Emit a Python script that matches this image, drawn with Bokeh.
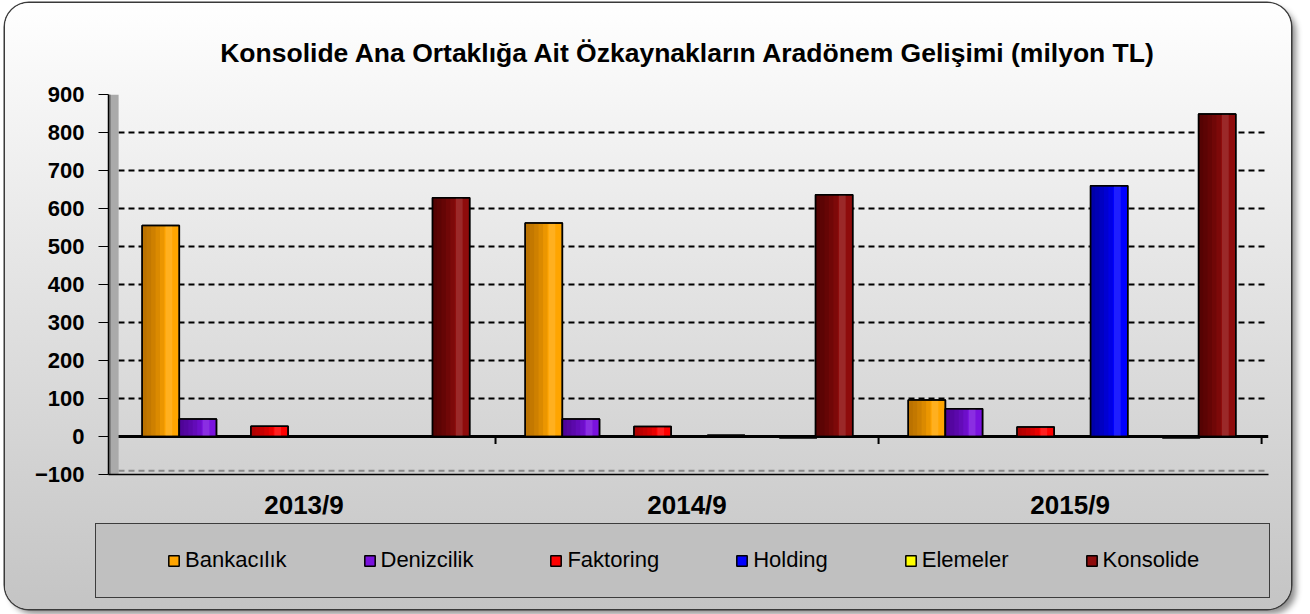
from bokeh.plotting import figure
from bokeh.layouts import column
from bokeh.models import (Range1d, FixedTicker, Legend, LegendItem, Span)
from bokeh.embed import file_html
from bokeh.resources import INLINE

# ---------------- data ----------------
categories = ["2013/9", "2014/9", "2015/9"]
series_names = ["Bankacılık", "Denizcilik", "Faktoring", "Holding", "Elemeler", "Konsolide"]
bankacilik = [555, 562, 96]
denizcilik = [46, 46, 73]
faktoring = [27, 26, 25]
holding = [1, 3, 660]
elemeler = [-2, -3, -3]
konsolide = [628, 636, 849]
y_ticks = [-100, 0, 100, 200, 300, 400, 500, 600, 700, 800, 900]

series_values = [bankacilik, denizcilik, faktoring, holding, elemeler, konsolide]

# ---------------- styles ----------------
colors = ["#FFA500", "#7A12DE", "#FF0000", "#0000FF", "#FFFF00", "#8E0C0C"]
dark = ["#9A5A00", "#3A0078", "#8A0000", "#000080", "#8A8A00", "#3E0000"]
offsets = [0.126, 0.223, 0.41, 0.602, 0.79, 0.884]   # slot centres within a category
bar_w = 0.097
W, H1, H2 = 1286, 526, 80

# page decoration: overall gradient, legend panel box and its border (CSS background layers)
bg = ("linear-gradient(#c0c0c0,#c0c0c0) 91px 521px / 1173px 73px no-repeat, "
      "linear-gradient(#3c3c3c,#3c3c3c) 90px 520px / 1175px 75px no-repeat, "
      "linear-gradient(to bottom, #ffffff 0%, #e4e4e4 45%, #c4c4c4 100%)")

p = figure(width=W, height=H1, output_backend="svg", toolbar_location=None,
           x_range=Range1d(-0.0104, 3.018), y_range=Range1d(-100, 900),
           min_border_left=103, min_border_right=23, min_border_top=91,
           min_border_bottom=55)
p.background_fill_alpha = 0
p.border_fill_alpha = 0
p.outline_line_color = None

p.title.text = "Konsolide Ana Ortaklığa Ait Özkaynakların Aradönem Gelişimi (milyon TL)"
p.title.align = "center"
p.title.text_font = "Liberation Sans"
p.title.text_font_size = "26.5px"
p.title.text_font_style = "bold"
p.title.text_color = "black"
p.title.standoff = 54

# y axis
yax = p.yaxis[0]
yax.ticker = FixedTicker(ticks=y_ticks)
yax.major_label_text_font = "Liberation Sans"
yax.major_label_text_font_style = "bold"
yax.major_label_text_font_size = "22px"
yax.major_label_text_color = "black"
yax.major_tick_out = 10
yax.major_tick_in = 0
yax.minor_tick_line_color = None
yax.axis_line_color = "black"
yax.axis_line_width = 1.5
yax.major_tick_line_color = "black"
yax.major_label_standoff = 14

# x axis
xax = p.xaxis[0]
xax.ticker = FixedTicker(ticks=[i + 0.5 for i in range(len(categories))])
xax.major_label_overrides = {i + 0.5: c for i, c in enumerate(categories)}
xax.major_label_text_font = "Liberation Sans"
xax.major_label_text_font_style = "bold"
xax.major_label_text_font_size = "26px"
xax.major_label_text_color = "black"
xax.major_tick_line_color = None
xax.minor_tick_line_color = None
xax.axis_line_color = "black"
xax.axis_line_width = 1.5
xax.major_label_standoff = 9

# grid
p.xgrid.visible = False
p.ygrid.ticker = FixedTicker(ticks=[t for t in y_ticks if t > 0])
p.ygrid.grid_line_color = "black"
p.ygrid.grid_line_dash = "6 4"
p.ygrid.grid_line_width = 2

p.add_layout(Span(location=-90, dimension="width", line_color="#8a8a8a",
                  line_dash="6 4", line_width=2, level="underlay"))
p.add_layout(Span(location=0, dimension="width", line_color="black",
                  line_width=3, level="underlay"))

# side wall
p.quad(left=-0.0104, right=0.016, bottom=-100, top=900,
       fill_color="#aaaaaa", line_color=None)
p.quad(left=-0.0104, right=-0.004, bottom=-100, top=900,
       fill_color="#808080", line_color=None)

# category separator ticks on the zero line
sep = list(range(1, len(categories) + 1))
p.segment(x0=sep, y0=[0] * len(sep), x1=sep, y1=[-20] * len(sep),
          line_color="black", line_width=2)

# bars
for name, vals, c, d, off in zip(series_names, series_values, colors, dark, offsets):
    xs = [i + off for i in range(len(categories))]
    p.vbar(x=xs, top=vals, bottom=0, width=bar_w, fill_color=c,
           line_color="black", line_width=1.5)
    # cylindrical shading: darker on the left
    for k in range(5):
        frac = 0.6 * (5 - k) / 5
        p.vbar(x=[x - bar_w / 2 + frac * bar_w / 2 for x in xs], top=vals, bottom=0,
               width=frac * bar_w, fill_color=d, fill_alpha=0.2, line_color=None)
    p.vbar(x=[x + 0.22 * bar_w for x in xs], top=vals, bottom=0, width=0.18 * bar_w,
           fill_color="white", fill_alpha=0.12, line_color=None)
    p.vbar(x=xs, top=vals, bottom=0, width=bar_w, fill_alpha=0,
           line_color="black", line_width=1.5)

# ---------------- legend strip ----------------
pl = figure(width=W, height=H2, output_backend="svg", toolbar_location=None,
            x_range=Range1d(0, 1), y_range=Range1d(0, 1),
            x_axis_location=None, y_axis_location=None, min_border=0)
pl.background_fill_alpha = 0
pl.border_fill_alpha = 0
pl.outline_line_color = None
pl.grid.visible = False

legend_items = []
for name, c in zip(series_names, colors):
    # legend proxy glyph of zero size (draws nothing in the strip itself)
    r = pl.vbar(x=[0.5], top=[0.5], bottom=[0.5], width=0, fill_color=c,
                line_color="black", line_width=1.5)
    legend_items.append(LegendItem(label=name, renderers=[r]))

legend = Legend(items=legend_items, orientation="horizontal", location=(54, 31),
                spacing=76, padding=5, margin=0, glyph_width=13, glyph_height=13,
                label_standoff=5, label_text_font="Liberation Sans",
                label_text_font_size="22px", label_text_color="black",
                border_line_alpha=0, background_fill_alpha=0)
pl.add_layout(legend, "center")

layout = column(p, pl, spacing=0, margin=(3, 0, 0, 5),
                styles={"background": bg, "border-radius": "24px",
                        "box-shadow": "0 0 0 1.5px #3a3a3a, 5px 5px 6px rgba(0,0,0,0.45)"})

open("out.html", "w").write(file_html(layout, INLINE))
